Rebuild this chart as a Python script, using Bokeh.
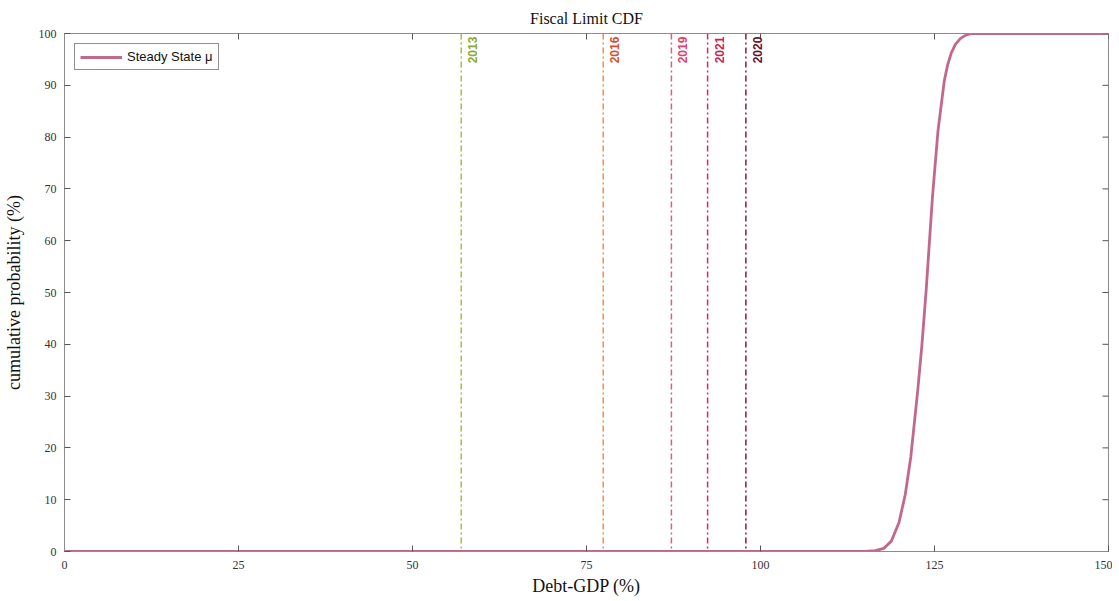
import math
from bokeh.plotting import figure
from bokeh.models import ColumnDataSource, Span, FixedTicker, Legend, LegendItem, Range1d
from bokeh.core.properties import value
from bokeh.embed import file_html
from bokeh.resources import INLINE

# CDF of the fiscal limit
debt_gdp = [0, 110, 115, 116.5, 117.7, 118.8, 119.9, 120.8, 121.6, 122.6, 123.2, 123.8,
            124.7, 125.5, 126.4, 126.9, 127.4, 128.0, 128.7, 129.5, 130.3, 140, 150]
cum_prob = [0, 0, 0, 0.15, 0.6, 2.0, 5.6, 11.0, 18.3, 31.2, 40.0, 50.4,
            68.3, 81.2, 90.8, 94.0, 96.2, 97.9, 99.0, 99.7, 100, 100, 100]

# Observed debt-GDP by year
years = ["2013", "2016", "2019", "2021", "2020"]
year_debt = [57.0, 77.4, 87.2, 92.4, 97.9]
line_colors = ["#a2bf45", "#f0904a", "#e65a82", "#d42c60", "#8c1a3e"]
text_colors = ["#8aaa30", "#d4502c", "#e0406c", "#c81e52", "#6a0c2c"]

x_ticks = [0, 25, 50, 75, 100, 125, 150]
y_ticks = [0, 10, 20, 30, 40, 50, 60, 70, 80, 90, 100]

SERIF = "Liberation Serif"
SANS = "Liberation Sans"

p = figure(width=1112, height=598, output_backend="svg", toolbar_location=None,
           x_range=Range1d(0, 150), y_range=Range1d(0, 100),
           min_border_left=64, min_border_right=4, min_border_top=32, min_border_bottom=10)

p.title.text = "Fiscal Limit CDF"
p.title.align = "center"
p.title.text_font = SERIF
p.title.text_font_style = "normal"
p.title.text_font_size = "16px"
p.title.text_color = "#111111"
p.title.offset = 0
p.title.standoff = 14

p.background_fill_color = "white"
p.border_fill_color = "white"
p.outline_line_color = "#8c8c8c"
p.outline_line_width = 1
p.xgrid.visible = False
p.ygrid.visible = False

for ax in (p.xaxis[0], p.yaxis[0]):
    ax.axis_line_color = "#8c8c8c"
    ax.major_tick_line_color = "#555555"
    ax.major_tick_in = 6
    ax.major_tick_out = 0
    ax.minor_tick_line_color = None
    ax.major_label_text_font = SERIF
    ax.major_label_text_font_size = "12px"
    ax.major_label_text_color = "#333333"
    ax.axis_label_text_font = SERIF
    ax.axis_label_text_font_style = "normal"
    ax.axis_label_text_font_size = "18px"
    ax.axis_label_text_color = "#111111"

p.xaxis[0].ticker = FixedTicker(ticks=x_ticks)
p.yaxis[0].ticker = FixedTicker(ticks=y_ticks)
p.xaxis[0].axis_label = "Debt-GDP (%)"
p.yaxis[0].axis_label = "cumulative probability (%)"
p.xaxis[0].major_label_standoff = 9
p.yaxis[0].major_label_standoff = 8
p.xaxis[0].axis_label_standoff = 4
p.yaxis[0].axis_label_standoff = 12

# mirrored tick marks on top and right sides (MATLAB box), clipped to the frame
p.scatter(x=x_ticks, y=[100] * len(x_ticks), marker="dash", angle=math.pi / 2, size=12,
          line_color="#555555", line_width=1)
p.scatter(x=[150] * len(y_ticks), y=y_ticks, marker="dash", size=12,
          line_color="#555555", line_width=1)

# vertical lines for years
for d, c in zip(year_debt, line_colors):
    p.add_layout(Span(location=d, dimension="height", line_color=c, line_width=1.5,
                      line_dash="6 3 2 3"))

lab_src = ColumnDataSource(dict(x=year_debt, y=[99.4] * len(years), t=years, c=text_colors))
p.text(x="x", y="y", text="t", text_color="c", source=lab_src, angle=math.pi / 2,
       text_align="right", text_baseline="top", x_offset=7,
       text_font=value(SANS), text_font_style="bold", text_font_size="12px")

# CDF curve
src = ColumnDataSource(dict(x=debt_gdp, y=cum_prob))
r = p.line(x="x", y="y", source=src, line_color="#c2688c", line_width=2.8,
           line_join="round")

legend = Legend(items=[LegendItem(label="Steady State \u03bc", renderers=[r])],
                location="top_left")
legend.label_text_font = SANS
legend.label_text_font_size = "13px"
legend.label_text_color = "#111111"
legend.border_line_color = "#222222"
legend.border_line_width = 1
legend.margin = 10
legend.padding = 5
legend.spacing = 0
legend.glyph_width = 42
legend.glyph_height = 14
legend.label_standoff = 5
legend.label_height = 14
p.add_layout(legend)

open("out.html", "w").write(file_html(p, INLINE))
